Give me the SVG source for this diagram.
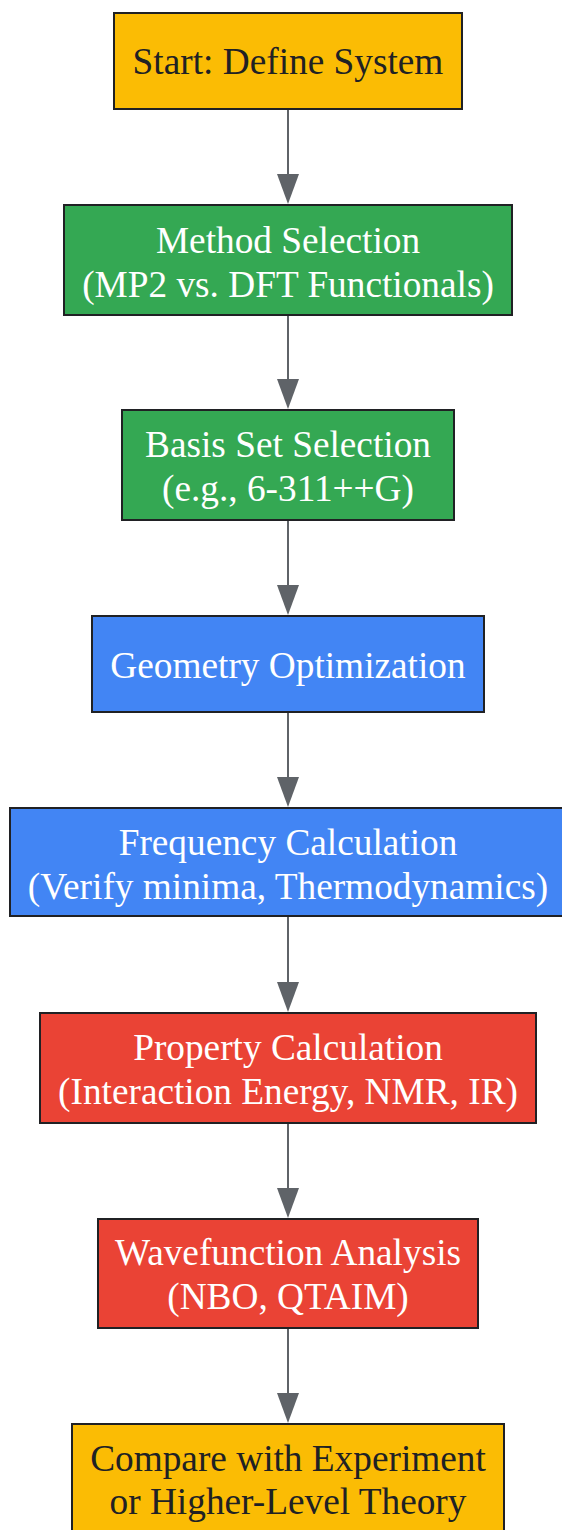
<svg xmlns="http://www.w3.org/2000/svg" width="562" height="1530" viewBox="0 0 562 1530">
<style>
.n{stroke:#202124;stroke-width:2}
.y{fill:#FBBC04}.g{fill:#34A853}.b{fill:#4285F4}.r{fill:#EA4335}
text{font-family:"Liberation Serif","Times New Roman",serif;font-size:37.3px;text-anchor:middle}
.dk{fill:#202124}.wt{fill:#ffffff}
.e{stroke:#5f6368;stroke-width:2;fill:none}
.h{fill:#5f6368}
</style>
<g id="edges">
<path class="e" d="M288,110 V174"/><path class="h" d="M277,174 L299,174 L288,204 Z"/>
<path class="e" d="M288,316 V379"/><path class="h" d="M277,379 L299,379 L288,409 Z"/>
<path class="e" d="M288,521 V585"/><path class="h" d="M277,585 L299,585 L288,615 Z"/>
<path class="e" d="M288,713 V777"/><path class="h" d="M277,777 L299,777 L288,807 Z"/>
<path class="e" d="M288,917 V982"/><path class="h" d="M277,982 L299,982 L288,1012 Z"/>
<path class="e" d="M288,1124 V1188"/><path class="h" d="M277,1188 L299,1188 L288,1218 Z"/>
<path class="e" d="M288,1329 V1393"/><path class="h" d="M277,1393 L299,1393 L288,1423 Z"/>
</g>
<g id="start"><rect class="n y" x="114" y="13" width="348" height="96"/><text class="dk" x="288" y="74">Start: Define System</text></g>
<g id="method"><rect class="n g" x="64" y="205" width="448" height="110"/><text class="wt" x="288" y="253">Method Selection</text><text class="wt" x="288" y="297">(MP2 vs. DFT Functionals)</text></g>
<g id="basis"><rect class="n g" x="122" y="410" width="332" height="110"/><text class="wt" x="288" y="457">Basis Set Selection</text><text class="wt" x="288" y="501">(e.g., 6-311++G)</text></g>
<g id="geom"><rect class="n b" x="92" y="616" width="392" height="96"/><text class="wt" x="288" y="678">Geometry Optimization</text></g>
<g id="freq"><rect class="n b" x="10" y="808" width="556" height="108"/><text class="wt" x="288" y="855">Frequency Calculation</text><text class="wt" x="288" y="899">(Verify minima, Thermodynamics)</text></g>
<g id="prop"><rect class="n r" x="40" y="1013" width="496" height="110"/><text class="wt" x="288" y="1060">Property Calculation</text><text class="wt" x="288" y="1104">(Interaction Energy, NMR, IR)</text></g>
<g id="wave"><rect class="n r" x="98" y="1219" width="380" height="109"/><text class="wt" x="288" y="1265">Wavefunction Analysis</text><text class="wt" x="288" y="1309">(NBO, QTAIM)</text></g>
<g id="compare"><rect class="n y" x="72" y="1424" width="432" height="110"/><text class="dk" x="288" y="1471">Compare with Experiment</text><text class="dk" x="288" y="1514">or Higher-Level Theory</text></g>
</svg>
